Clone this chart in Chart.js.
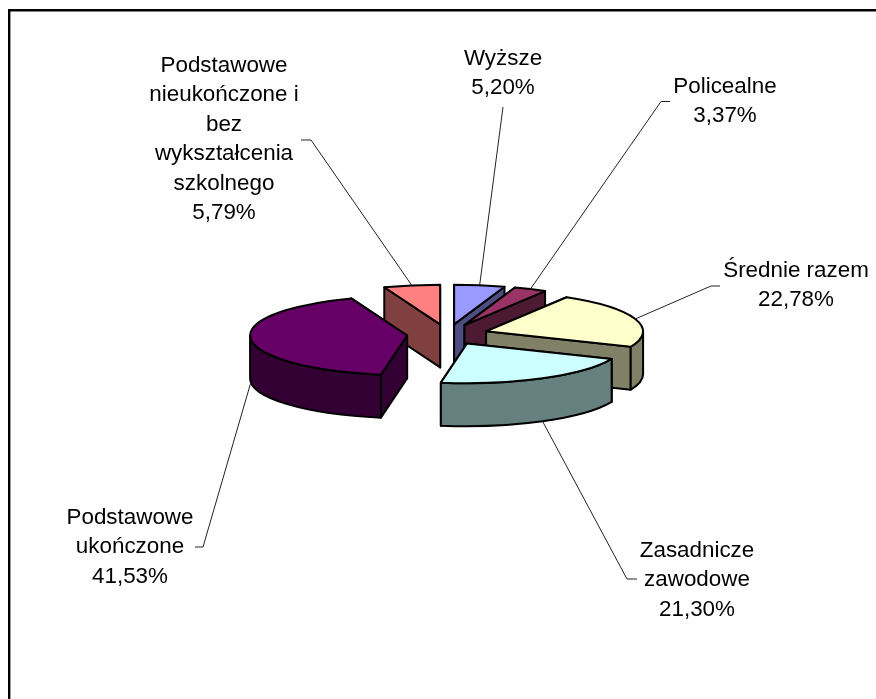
<!DOCTYPE html>
<html>
<head>
<meta charset="utf-8">
<title>Wykształcenie</title>
<script src="https://cdn.jsdelivr.net/npm/chart.js@4/dist/chart.umd.min.js"></script>
<style>
  html, body { margin: 0; padding: 0; background: #fff; }
  canvas { display: block; }
</style>
</head>
<body>
<canvas id="pie" width="876" height="699"></canvas>
<script>
const categories = ["Wyższe", "Policealne", "Średnie razem", "Zasadnicze zawodowe", "Podstawowe ukończone", "Podstawowe nieukończone i bez wykształcenia szkolnego"];
const shares = [5.20, 3.37, 22.78, 21.30, 41.53, 5.79];

const labelLines = [
  ["Wyższe"],
  ["Policealne"],
  ["Średnie razem"],
  ["Zasadnicze", "zawodowe"],
  ["Podstawowe", "ukończone"],
  ["Podstawowe", "nieukończone i", "bez", "wykształcenia", "szkolnego"],
];

const topColors = ["#9999FF", "#993366", "#FFFFCC", "#CCFFFF", "#660066", "#FF8080"];
const sideColors = ["#4D4D80", "#4D1A33", "#808066", "#668080", "#330033", "#804040"];

// label placement: centre x, first baseline y
const labelX = [503, 725, 796, 697, 130, 224];
const labelY = [65, 93, 277, 557, 524, 72];
const LINE_H = 29.4;

// leader lines: start of the line near the label (elbow stub first, null = no stub)
const leaderFrom = [[503, 107], [670, 101.5], [720, 286], [637, 579], [195, 547], [301, 140]];
const leaderElbow = [null, [661, 101.5], [711, 286], [627, 579], [203, 547], [311, 140]];
const leaderOnBottom = [false, false, false, true, true, false]; // ends on lower rim

// back slices first
const drawOrder = [5, 0, 1, 2, 3, 4];

const SQUASH = 0.253;   // ellipse height / width
const EXPLODE = 40.6;   // how far every slice is pulled out
const DEPTH = 43;       // height of the side walls
const RADIUS = 157;

function sliceGeom(arc) {
  const mid = (arc.startAngle + arc.endAngle) / 2;
  const ax = arc.x + Math.cos(mid) * EXPLODE;
  const ay = arc.y + Math.sin(mid) * EXPLODE * SQUASH;
  const rim = (t) => [ax + Math.cos(t) * RADIUS, ay + Math.sin(t) * RADIUS * SQUASH];
  return { mid, ax, ay, rim };
}

function wall(ctx, p, q, color) {
  ctx.beginPath();
  ctx.moveTo(p[0], p[1]);
  ctx.lineTo(q[0], q[1]);
  ctx.lineTo(q[0], q[1] + DEPTH);
  ctx.lineTo(p[0], p[1] + DEPTH);
  ctx.closePath();
  ctx.fillStyle = color;
  ctx.fill();
  ctx.stroke();
}

const pie3d = {
  id: "pie3d",
  beforeDatasetsDraw(chart) {
    const ctx = chart.ctx;
    const arcs = chart.getDatasetMeta(0).data;
    ctx.save();
    ctx.strokeStyle = "#000";
    ctx.lineWidth = 2;
    ctx.lineJoin = "round";

    drawOrder.forEach((i) => {
      const arc = arcs[i];
      const g = sliceGeom(arc);
      const apex = [g.ax, g.ay];

      // radial walls, the one further back goes first
      const ends = [g.rim(arc.startAngle), g.rim(arc.endAngle)].sort((a, b) => a[1] - b[1]);
      wall(ctx, apex, ends[0], sideColors[i]);
      wall(ctx, apex, ends[1], sideColors[i]);

      // outer wall, only the front half of the rim shows
      const lo = Math.max(arc.startAngle, 0);
      const hi = Math.min(arc.endAngle, Math.PI);
      if (hi > lo) {
        ctx.beginPath();
        ctx.ellipse(g.ax, g.ay, RADIUS, RADIUS * SQUASH, 0, lo, hi);
        ctx.ellipse(g.ax, g.ay + DEPTH, RADIUS, RADIUS * SQUASH, 0, hi, lo, true);
        ctx.closePath();
        ctx.fillStyle = sideColors[i];
        ctx.fill();
        ctx.stroke();
      }

      // top face: the library's arc, squashed
      ctx.save();
      ctx.translate(g.ax, g.ay);
      ctx.scale(1, SQUASH);
      ctx.translate(-arc.x, -arc.y);
      arc.draw(ctx);
      ctx.restore();

      ctx.beginPath();
      ctx.moveTo(g.ax, g.ay);
      ctx.ellipse(g.ax, g.ay, RADIUS, RADIUS * SQUASH, 0, arc.startAngle, arc.endAngle);
      ctx.closePath();
      ctx.stroke();
    });
    ctx.restore();
    return false;
  },
  afterDraw(chart) {
    const ctx = chart.ctx;
    const arcs = chart.getDatasetMeta(0).data;
    ctx.save();

    // frame: only left and top edges are in the picture
    ctx.strokeStyle = "#000";
    ctx.lineWidth = 2.4;
    ctx.beginPath();
    ctx.moveTo(9.2, 699);
    ctx.lineTo(9.2, 10.2);
    ctx.lineTo(876, 10.2);
    ctx.stroke();

    // leader lines
    ctx.lineWidth = 1;
    ctx.strokeStyle = "#222";
    arcs.forEach((arc, i) => {
      const g = sliceGeom(arc);
      const end = g.rim(g.mid);
      ctx.beginPath();
      ctx.moveTo(leaderFrom[i][0], leaderFrom[i][1]);
      if (leaderElbow[i]) ctx.lineTo(leaderElbow[i][0], leaderElbow[i][1]);
      ctx.lineTo(end[0], end[1] + (leaderOnBottom[i] ? DEPTH : 0));
      ctx.stroke();
    });

    // labels
    ctx.fillStyle = "#000";
    ctx.font = '22.4px "Liberation Sans", Arial, sans-serif';
    ctx.textAlign = "center";
    ctx.textBaseline = "alphabetic";
    categories.forEach((c, i) => {
      const lines = labelLines[i].concat(shares[i].toFixed(2).replace(".", ",") + "%");
      lines.forEach((line, n) => {
        ctx.fillText(line, labelX[i], labelY[i] + n * LINE_H);
      });
    });
    ctx.restore();
  },
};

new Chart(document.getElementById("pie"), {
  type: "pie",
  data: {
    labels: categories,
    datasets: [{
      data: shares,
      backgroundColor: topColors,
      borderWidth: 0,
      radius: RADIUS,
    }],
  },
  options: {
    responsive: false,
    animation: false,
    events: [],
    layout: { padding: { left: 19, top: 0, right: 0, bottom: 30 } },
    plugins: { legend: { display: false }, tooltip: { enabled: false } },
  },
  plugins: [pie3d],
});
</script>
</body>
</html>
